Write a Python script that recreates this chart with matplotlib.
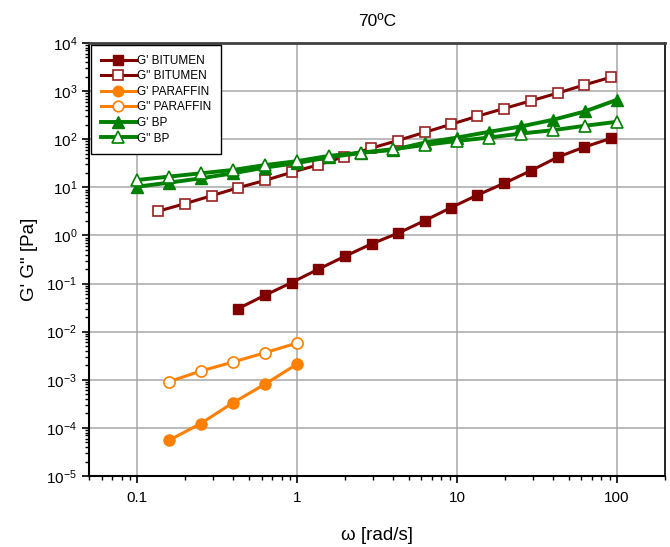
"""
Frequency sweep at 70 C: G' and G" for bitumen, paraffin and the BP blend.
"""
import numpy as np
import matplotlib
matplotlib.use("Agg")
import matplotlib.pyplot as plt
from matplotlib.ticker import LogLocator, FixedLocator, FuncFormatter, NullFormatter

plt.rcParams["font.family"] = ["Liberation Sans", "DejaVu Sans"]
plt.rcParams["mathtext.fontset"] = "custom"
plt.rcParams["mathtext.rm"] = "Liberation Sans"
plt.rcParams["mathtext.it"] = "Liberation Sans:italic"

# --- data ---
w_bit_gpp = [0.136, 0.200, 0.293, 0.428, 0.63, 0.925, 1.35, 1.98, 2.90,
             4.27, 6.28, 9.18, 13.4, 19.7, 29.0, 42.6, 62.3, 91.6]
gpp_bit = [3.2, 4.6, 6.7, 9.8, 13.9, 20.5, 29.2, 43.6, 65,
           94, 139, 204, 300, 434, 628, 909, 1337, 1936]

w_bit_gp = [0.427, 0.63, 0.926, 1.36, 2.0, 2.93, 4.3, 6.28, 9.18,
            13.4, 19.7, 29.0, 42.6, 62.3, 91.6]
gp_bit = [0.030, 0.057, 0.105, 0.199, 0.371, 0.67, 1.12, 2.03, 3.79,
          6.88, 12.1, 22.2, 42.3, 68.4, 104]

w_par = [0.158, 0.25, 0.397, 0.63, 1.0]
gp_par = [5.5e-5, 1.23e-4, 3.32e-4, 8.1e-4, 2.12e-3]
gpp_par = [9.1e-4, 1.52e-3, 2.33e-3, 3.65e-3, 5.8e-3]

w_bp = [0.1, 0.158, 0.251, 0.398, 0.63, 1.0, 1.58, 2.51, 3.98,
        6.3, 10, 15.8, 25.1, 39.8, 63, 100]
gp_bp = [10.3, 12.5, 15.4, 19.6, 25.7, 32, 42, 52, 60,
         85, 108, 142, 184, 253, 377, 659]
gpp_bp = [14.2, 16.7, 19.6, 23, 29, 35, 45, 52.6, 62,
          76, 92, 108, 131, 154, 190, 230]

RED = "#800000"
ORANGE = "#ff8000"
GREEN = "#008000"

fig = plt.figure(figsize=(6.70, 5.47), dpi=100)
ax = fig.add_axes([0.1328, 0.1298, 0.8597, 0.7916])

lw, ms = 2.2, 7.5
ax.plot(w_bit_gp, gp_bit, "-s", color=RED, lw=lw, ms=ms - 0.5,
        mfc=RED, mec=RED, label="G' BITUMEN", zorder=3)
ax.plot(w_bit_gpp, gpp_bit, "-s", color=RED, lw=lw, ms=ms - 0.5,
        mfc="white", mec="#9a2020", mew=1.2, label='G" BITUMEN', zorder=3)
ax.plot(w_par, gp_par, "-o", color=ORANGE, lw=lw, ms=ms + 0.5,
        mfc=ORANGE, mec=ORANGE, label="G' PARAFFIN", zorder=3)
ax.plot(w_par, gpp_par, "-o", color=ORANGE, lw=lw, ms=ms + 0.5,
        mfc="white", mec=ORANGE, mew=1.2, label='G" PARAFFIN', zorder=3)
ax.plot(w_bp, gp_bp, "-^", color=GREEN, lw=lw + 0.6, ms=ms + 1,
        mfc=GREEN, mec=GREEN, label="G' BP", zorder=3)
ax.plot(w_bp, gpp_bp, "-^", color=GREEN, lw=lw + 0.6, ms=ms + 1,
        mfc="white", mec=GREEN, mew=1.2, label='G" BP', zorder=3)

ax.set_xscale("log")
ax.set_yscale("log")
ax.set_xlim(0.05, 200)
ax.set_ylim(1e-5, 1e4)

ax.xaxis.set_major_locator(FixedLocator([0.1, 1, 10, 100]))
ax.xaxis.set_major_formatter(FuncFormatter(lambda v, p: f"{v:g}"))
ax.xaxis.set_minor_locator(LogLocator(base=10, subs=np.arange(2, 10), numticks=20))
ax.xaxis.set_minor_formatter(NullFormatter())
ax.yaxis.set_major_locator(LogLocator(base=10, numticks=20))
ax.yaxis.set_minor_locator(LogLocator(base=10, subs=np.arange(2, 10), numticks=20))
ax.yaxis.set_minor_formatter(NullFormatter())

ax.tick_params(which="major", direction="out", length=5, width=1.2,
               labelsize=11, colors="black")
ax.tick_params(axis="x", which="major", pad=6)
ax.tick_params(which="minor", direction="out", length=3, width=1)
ax.grid(True, which="major", color="#a8a8a8", lw=1.1)
ax.set_axisbelow(True)
for side in ("left", "bottom"):
    ax.spines[side].set_linewidth(1.5)
ax.spines["top"].set_linewidth(2.0)
ax.spines["top"].set_color("#404040")
ax.spines["right"].set_linewidth(1.2)

ax.set_title("70ºC", fontsize=12.5, pad=12)
ax.set_xlabel("ω [rad/s]", fontsize=13.5, labelpad=16)
ax.set_ylabel('G\' G" [Pa]', fontsize=13.5, labelpad=6)

leg = ax.legend(loc="upper left", fontsize=8.5, frameon=True, fancybox=False,
                edgecolor="black", framealpha=1, handlelength=3.0,
                borderpad=0.8, labelspacing=0.3, handletextpad=0.1,
                borderaxespad=0.2, markerscale=0.95)
leg.get_frame().set_linewidth(1.0)

fig.savefig("out.png", dpi=100)
